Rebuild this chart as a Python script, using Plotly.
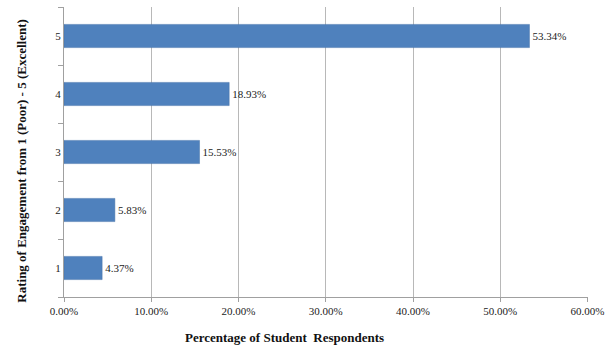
import plotly.graph_objects as go

ratings = ["1", "2", "3", "4", "5"]
percentages = [4.37, 5.83, 15.53, 18.93, 53.34]
x_ticks = [0, 10, 20, 30, 40, 50, 60]
x_tick_labels = ["0.00%", "10.00%", "20.00%", "30.00%", "40.00%", "50.00%", "60.00%"]

font_family = "Liberation Serif"

fig = go.Figure(go.Bar(
    x=percentages,
    y=ratings,
    orientation="h",
    width=0.4,
    marker=dict(color="#4f81bd", line=dict(color="#4672a8", width=0.5)),
    text=[f"{v:.2f}%" for v in percentages],
    textposition="outside",
    cliponaxis=False,
    textfont=dict(family=font_family, size=11, color="#222222"),
))

fig.update_layout(
    width=612, height=353,
    margin=dict(l=64, r=24, t=7, b=56),
    plot_bgcolor="white", paper_bgcolor="white",
    showlegend=False,
    font=dict(family=font_family, size=11, color="#222222"),
    xaxis=dict(
        range=[0, 60.05],
        tickvals=x_ticks, ticktext=x_tick_labels,
        showgrid=True, gridcolor="#b8b8b8", gridwidth=1,
        showline=True, linecolor="#a0a0a0", linewidth=1,
        ticks="outside", ticklen=4, tickcolor="#a0a0a0",
        zeroline=False,
        tickfont=dict(family=font_family, size=11, color="#222222"),
    ),
    yaxis=dict(
        type="category",
        categoryorder="array", categoryarray=ratings,
        showgrid=False,
        showline=True, linecolor="#a0a0a0", linewidth=1,
        ticks="outside", ticklen=5, tickcolor="#a0a0a0",
        tickson="boundaries",
        tickfont=dict(family=font_family, size=11, color="#222222"),
    ),
    annotations=[
        dict(text="<b>Percentage of Student  Respondents</b>", xref="paper", yref="paper",
             x=0.42, y=0, yshift=-40, xanchor="center", yanchor="middle", showarrow=False,
             font=dict(family=font_family, size=13, color="#111111")),
        dict(text="<b>Rating of Engagement from 1 (Poor) - 5 (Excellent)</b>", xref="paper", yref="paper",
             x=0, xshift=-42, y=0.47, xanchor="center", yanchor="middle", textangle=-90, showarrow=False,
             font=dict(family=font_family, size=13, color="#111111")),
    ],
)

fig.write_html("out.html")
